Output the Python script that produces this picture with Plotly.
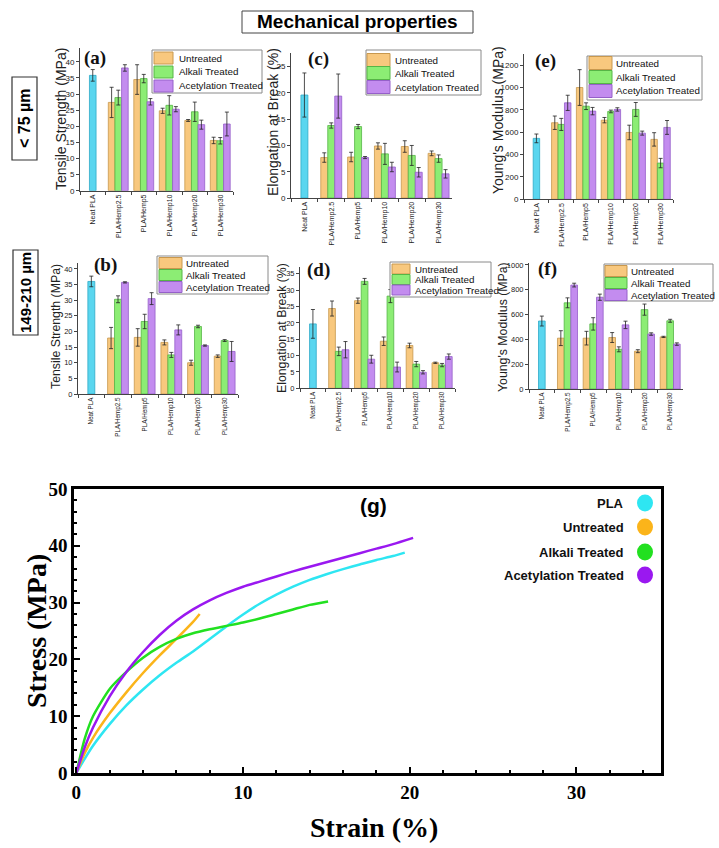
import plotly.graph_objects as go

# ---------------- data ----------------
categories = ["Neat PLA", "PLA/Hemp2.5", "PLA/Hemp5", "PLA/Hemp10", "PLA/Hemp20", "PLA/Hemp30"]
composites = categories[1:]
series_names = ["Untreated", "Alkali Treated", "Acetylation Treated"]

# (a) Tensile strength, < 75 um
ts75_neat, ts75_neat_err = 35.8, 1.8
ts75_untreated = [27.4, 34.5, 24.8, 21.8, 15.6]
ts75_untreated_err = [4.7, 4.6, 0.8, 0.3, 1.0]
ts75_alkali = [28.9, 34.8, 26.5, 24.5, 15.5]
ts75_alkali_err = [2.3, 1.3, 3.0, 3.0, 1.0]
ts75_acetyl = [38.1, 27.6, 25.3, 20.5, 20.7]
ts75_acetyl_err = [1.0, 1.0, 0.8, 1.4, 3.7]

# (c) Elongation at break, < 75 um
el75_neat, el75_neat_err = 19.6, 4.2
el75_untreated = [7.7, 7.8, 9.9, 9.8, 8.5]
el75_untreated_err = [0.9, 0.9, 0.6, 1.1, 0.45]
el75_alkali = [13.8, 13.6, 8.4, 8.1, 7.5]
el75_alkali_err = [0.5, 0.4, 2.0, 1.9, 0.7]
el75_acetyl = [19.4, 7.7, 5.9, 4.9, 4.6]
el75_acetyl_err = [4.2, 0.2, 0.9, 0.9, 0.8]

# (e) Young's modulus, < 75 um
ym75_neat, ym75_neat_err = 545, 39
ym75_untreated = [685, 1000, 708, 598, 536]
ym75_untreated_err = [60, 160, 24, 65, 60]
ym75_alkali = [670, 833, 786, 804, 324]
ym75_alkali_err = [54, 30, 12, 62, 42]
ym75_acetyl = [863, 789, 804, 592, 643]
ym75_acetyl_err = [68, 33, 15, 18, 62]

# (b) Tensile strength, 149-210 um
ts149_neat, ts149_neat_err = 36.0, 1.7
ts149_untreated = [17.9, 18.1, 16.5, 10.0, 12.1]
ts149_untreated_err = [3.4, 2.8, 0.8, 0.8, 0.4]
ts149_alkali = [30.3, 23.2, 12.5, 21.6, 17.1]
ts149_alkali_err = [1.1, 2.3, 0.8, 0.4, 0.3]
ts149_acetyl = [35.7, 30.5, 20.5, 15.5, 13.6]
ts149_acetyl_err = [0.2, 1.9, 1.6, 0.2, 3.2]

# (d) Elongation at break, 149-210 um
el149_neat, el149_neat_err = 19.7, 4.4
el149_untreated = [24.4, 26.8, 14.4, 13.1, 7.8]
el149_untreated_err = [2.3, 0.8, 1.3, 0.7, 0.2]
el149_alkali = [11.3, 32.7, 28.2, 7.4, 7.1]
el149_alkali_err = [1.3, 0.9, 2.0, 0.8, 0.5]
el149_acetyl = [11.8, 8.9, 6.5, 4.9, 9.7]
el149_acetyl_err = [2.5, 1.2, 1.5, 0.5, 0.8]

# (f) Young's modulus, 149-210 um
ym149_neat, ym149_neat_err = 548, 40
ym149_untreated = [410, 410, 415, 305, 420]
ym149_untreated_err = [60, 55, 40, 12, 5]
ym149_alkali = [695, 525, 320, 640, 550]
ym149_alkali_err = [40, 50, 20, 45, 12]
ym149_acetyl = [838, 740, 517, 443, 362]
ym149_acetyl_err = [15, 25, 30, 10, 10]

# (g) Stress-strain curves
pla_strain = [0, 0.5, 1, 2, 3, 4, 5, 6, 7, 8, 9, 10, 11, 12, 13, 14, 15, 16, 17, 18, 19, 19.7]
pla_stress = [0, 2.5, 4.8, 8.6, 11.9, 14.7, 17.2, 19.4, 21.4, 23.6, 25.8, 27.9, 29.8, 31.4, 32.8, 34.0, 35.0, 35.9, 36.7, 37.5, 38.2, 38.8]
unt_strain = [0, 0.5, 1, 2, 3, 4, 5, 6, 7, 7.4]
unt_stress = [0, 3.5, 6.2, 10.5, 14.2, 17.6, 20.7, 23.6, 26.6, 28.0]
alk_strain = [0, 0.5, 1, 2, 3, 4, 5, 6, 7, 8, 9, 10, 11, 12, 13, 14, 15.1]
alk_stress = [0, 6.0, 10.0, 14.8, 17.8, 20.3, 22.2, 23.6, 24.6, 25.3, 25.9, 26.5, 27.2, 28.0, 28.8, 29.6, 30.2]
ace_strain = [0, 0.5, 1, 2, 3, 4, 5, 6, 7, 8, 9, 10, 11, 12, 13, 14, 15, 16, 17, 18, 19, 20.2]
ace_stress = [0, 4.5, 8.0, 13.5, 17.8, 21.3, 24.3, 26.8, 28.8, 30.4, 31.7, 32.8, 33.7, 34.6, 35.5, 36.3, 37.1, 37.9, 38.7, 39.5, 40.3, 41.4]

# ---------------- styling ----------------
W, H = 719, 848
def px(x):
    return x / W
def py(y):
    return 1 - y / H

CYAN, CYAN_E = "#5ad6ef", "#2fa9c8"
ORANGE, ORANGE_E = "#f8c87e", "#c8984e"
GREEN, GREEN_E = "#8ced74", "#56b546"
PURPLE, PURPLE_E = "#c38cef", "#9560c9"
SANS = "Liberation Sans"
SERIF = "Liberation Serif"
BW = 0.26

fig = go.Figure()

panels = [
    dict(idx=1, lab="(a)", neat=(ts75_neat, ts75_neat_err),
         s=[(ts75_untreated, ts75_untreated_err), (ts75_alkali, ts75_alkali_err), (ts75_acetyl, ts75_acetyl_err)],
         xd=(80, 233), yd=(48.3, 190.7), yr=44.2, dt=5, title="Tensile Strength (MPa)", tpos=(61, 119), tfs=14,
         labpos=(95, 58), leg=dict(box=(152, 50, 262, 93), rows=(58, 72, 86), sw=(154, 173), tx=177, sh=6), fs=8, cfs=7),
    dict(idx=2, lab="(c)", neat=(el75_neat, el75_neat_err),
         s=[(el75_untreated, el75_untreated_err), (el75_alkali, el75_alkali_err), (el75_acetyl, el75_acetyl_err)],
         xd=(291, 452), yd=(53, 198), yr=27.6, dt=5, title="Elongation at Break (%)", tpos=(273, 122), tfs=14,
         labpos=(318, 59), leg=dict(box=(366, 50, 481, 95), rows=(60, 73, 87), sw=(367, 390), tx=393, sh=6.5), fs=8, cfs=7),
    dict(idx=3, lab="(e)", neat=(ym75_neat, ym75_neat_err),
         s=[(ym75_untreated, ym75_untreated_err), (ym75_alkali, ym75_alkali_err), (ym75_acetyl, ym75_acetyl_err)],
         xd=(524, 673), yd=(54, 199.3), yr=1300, dt=200, title="Young's Modulus (MPa)", tpos=(498, 120), tfs=14,
         labpos=(545, 61), leg=dict(box=(587, 56, 702, 100), rows=(63, 77, 91), sw=(589, 612), tx=614, sh=6.5), fs=8, cfs=7),
    dict(idx=4, lab="(b)", neat=(ts149_neat, ts149_neat_err),
         s=[(ts149_untreated, ts149_untreated_err), (ts149_alkali, ts149_alkali_err), (ts149_acetyl, ts149_acetyl_err)],
         xd=(78, 238), yd=(263, 394), yr=41.9, dt=5, title="Tensile Strength (MPa)", tpos=(56, 327), tfs=12.3,
         labpos=(105, 265), leg=dict(box=(157, 256, 268, 294), rows=(263, 275, 287), sw=(159, 182), tx=184, sh=5.5), fs=7.5, cfs=6.3),
    dict(idx=5, lab="(d)", neat=(el149_neat, el149_neat_err),
         s=[(el149_untreated, el149_untreated_err), (el149_alkali, el149_alkali_err), (el149_acetyl, el149_acetyl_err)],
         xd=(300, 455), yd=(267, 388.3), yr=37.1, dt=5, title="Elongation at Break (%)", tpos=(282, 328), tfs=12.3,
         labpos=(318, 270), leg=dict(box=(390, 262, 491, 297), rows=(269, 279.5, 290), sw=(392, 410), tx=413, sh=5), fs=7.5, cfs=6.3),
    dict(idx=6, lab="(f)", neat=(ym149_neat, ym149_neat_err),
         s=[(ym149_untreated, ym149_untreated_err), (ym149_alkali, ym149_alkali_err), (ym149_acetyl, ym149_acetyl_err)],
         xd=(529, 683), yd=(263, 389), yr=1016, dt=200, title="Young's Modulus (MPa)", tpos=(503, 327), tfs=12.3,
         labpos=(547, 269), leg=dict(box=(604, 264, 713, 301), rows=(271, 283, 295), sw=(605, 627), tx=629, sh=5.5), fs=7.5, cfs=6.3),
]

fills = [(ORANGE, ORANGE_E), (GREEN, GREEN_E), (PURPLE, PURPLE_E)]
offsets = [-1.5 * BW, -0.5 * BW, 0.5 * BW]

shapes = []
annotations = []

def ann(x, y, text, size, family=SANS, angle=0, xanchor="center", color="#111"):
    annotations.append(dict(x=px(x), y=py(y), xref="paper", yref="paper", text=text, textangle=angle,
                            xanchor=xanchor, yanchor="middle", showarrow=False,
                            font=dict(family=family, size=size, color=color)))

def err(arr):
    return dict(type="data", array=arr, visible=True, color="#222222", thickness=0.8, width=2)

for p in panels:
    i = p["idx"]
    xa = "x" if i == 1 else f"x{i}"
    ya = "y" if i == 1 else f"y{i}"
    fig.add_trace(go.Bar(x=[categories[0]], y=[p["neat"][0]], width=[BW], offset=[-0.5 * BW],
                         marker=dict(color=CYAN, line=dict(color=CYAN_E, width=0.8)),
                         error_y=err([p["neat"][1]]), xaxis=xa, yaxis=ya, showlegend=False, name="Neat PLA"))
    for (vals, errs), (fc, ec), off, nm in zip(p["s"], fills, offsets, series_names):
        fig.add_trace(go.Bar(x=composites, y=vals, width=BW, offset=off,
                             marker=dict(color=fc, line=dict(color=ec, width=0.8)),
                             error_y=err(errs), xaxis=xa, yaxis=ya, showlegend=False, name=nm))
    xkey = "xaxis" if i == 1 else f"xaxis{i}"
    ykey = "yaxis" if i == 1 else f"yaxis{i}"
    fig.layout[xkey] = dict(domain=[px(p["xd"][0]), px(p["xd"][1])], anchor=ya, type="category",
                            categoryorder="array", categoryarray=categories, range=[-0.5, 5.5],
                            tickangle=-90, tickfont=dict(family=SANS, size=p["cfs"], color="#222"),
                            ticks="outside", ticklen=3, tickson="boundaries", tickcolor="#444",
                            showline=True, linecolor="#444", linewidth=1, showgrid=False, zeroline=False)
    fig.layout[ykey] = dict(domain=[py(p["yd"][1]), py(p["yd"][0])], anchor=xa, range=[0, p["yr"]],
                            tick0=0, dtick=p["dt"], tickfont=dict(family=SANS, size=p["fs"], color="#222"),
                            ticks="outside", ticklen=3, tickcolor="#444",
                            showline=True, linecolor="#444", linewidth=1, showgrid=False, zeroline=False)
    ann(p["tpos"][0], p["tpos"][1], p["title"], p["tfs"], angle=-90, color="#222")
    ann(p["labpos"][0], p["labpos"][1], "<b>" + p["lab"] + "</b>", 19, family=SERIF)
    lg = p["leg"]
    bx0, by0, bx1, by1 = lg["box"]
    shapes.append(dict(type="rect", xref="paper", yref="paper", x0=px(bx0), x1=px(bx1), y0=py(by1), y1=py(by0),
                       line=dict(color="#8a8a8a", width=1), fillcolor="white", layer="above"))
    for r, (fc, ec), nm in zip(lg["rows"], fills, series_names):
        shapes.append(dict(type="rect", xref="paper", yref="paper", x0=px(lg["sw"][0]), x1=px(lg["sw"][1]),
                           y0=py(r + lg["sh"]), y1=py(r - lg["sh"]),
                           line=dict(color=ec, width=1), fillcolor=fc, layer="above"))
        ann(lg["tx"], r, nm, 9.8, xanchor="left")

# ---------------- (g) stress-strain ----------------
curves = [
    ("PLA", pla_strain, pla_stress, "#2ee6f2"),
    ("Untreated", unt_strain, unt_stress, "#fbb41a"),
    ("Alkali Treated", alk_strain, alk_stress, "#22e020"),
    ("Acetylation Treated", ace_strain, ace_stress, "#9a18f0"),
]
for nm, xs, ys, col in curves:
    fig.add_trace(go.Scatter(x=xs, y=ys, mode="lines", name=nm, showlegend=False,
                             line=dict(color=col, width=2.5, shape="spline", smoothing=0.6),
                             xaxis="x7", yaxis="y7"))

gfont = dict(family=SERIF, size=19, color="black", weight="bold")
fig.layout["xaxis7"] = dict(domain=[px(74), px(661)], anchor="y7", range=[-0.14, 35.07],
                            tick0=0, dtick=10, ticks="inside", ticklen=6, tickwidth=2, tickcolor="black",
                            minor=dict(dtick=2, tick0=0, ticks="inside", ticklen=3, tickwidth=1.5, tickcolor="black"),
                            showline=True, mirror=True, linecolor="black", linewidth=2.5,
                            showgrid=False, zeroline=False, tickfont=gfont)
fig.layout["yaxis7"] = dict(domain=[py(773), py(489)], anchor="x7", range=[0, 50],
                            tick0=0, dtick=10, ticks="inside", ticklen=6, tickwidth=2, tickcolor="black",
                            minor=dict(dtick=2, tick0=0, ticks="inside", ticklen=3, tickwidth=1.5, tickcolor="black"),
                            showline=True, mirror=True, linecolor="black", linewidth=2.5,
                            showgrid=False, zeroline=False, tickfont=gfont)

ann(36, 631, "<b>Stress (MPa)</b>", 28, family=SERIF, angle=-90, color="black")
ann(374, 827, "<b>Strain (%)</b>", 28, family=SERIF, color="black")
ann(373, 505, "<b>(g)</b>", 21, color="black")

g_rows = [503, 527, 552, 575]
for (nm, _, _, col), r in zip(curves, g_rows):
    annotations.append(dict(x=px(626), y=py(r), xref="paper", yref="paper", text="<b>" + nm + "</b>",
                            xanchor="right", yanchor="middle", showarrow=False,
                            font=dict(family=SANS, size=13, color="#111")))
    shapes.append(dict(type="circle", xref="paper", yref="paper", x0=px(637), x1=px(653),
                       y0=py(r + 8.5), y1=py(r - 8.5), fillcolor=col, line=dict(color=col, width=0)))

# ---------------- header / row labels ----------------
shapes.append(dict(type="rect", xref="paper", yref="paper", x0=px(242), x1=px(473), y0=py(33), y1=py(11),
                   line=dict(color="#444", width=1), fillcolor="white"))
ann(357.5, 22, "<b>Mechanical properties</b>", 19, color="black")
shapes.append(dict(type="rect", xref="paper", yref="paper", x0=px(12), x1=px(37), y0=py(160), y1=py(77),
                   line=dict(color="#333", width=1.2), fillcolor="white"))
ann(24.5, 118.5, "<b>&lt; 75 µm</b>", 16, angle=-90, color="black")
shapes.append(dict(type="rect", xref="paper", yref="paper", x0=px(13), x1=px(38), y0=py(335), y1=py(250),
                   line=dict(color="#333", width=1.2), fillcolor="white"))
ann(25.5, 292.5, "<b>149-210 µm</b>", 15, angle=-90, color="black")

fig.update_layout(width=W, height=H, margin=dict(l=0, r=0, t=0, b=0, autoexpand=False),
                  paper_bgcolor="white", plot_bgcolor="white", barmode="overlay",
                  shapes=shapes, annotations=annotations, showlegend=False)

fig.write_html("out.html", config={"displayModeBar": False},
               post_script="document.body.style.margin='0px';")
